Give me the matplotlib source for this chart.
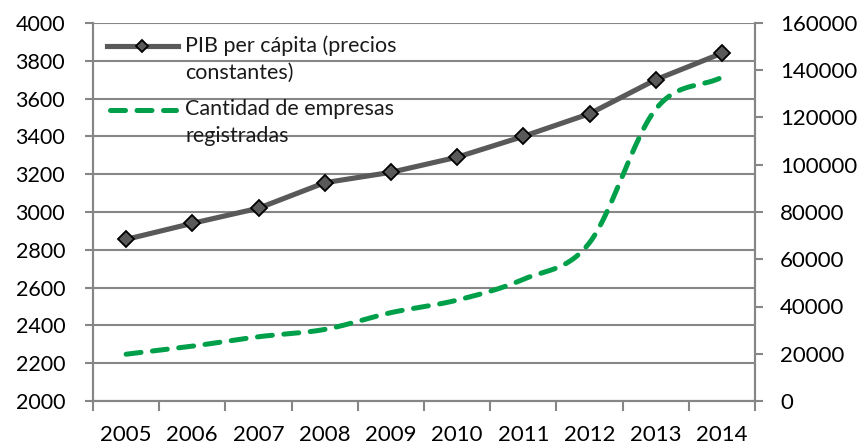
import numpy as np
import matplotlib.pyplot as plt
from matplotlib.lines import Line2D

# --- Data ---
years = ['2005', '2006', '2007', '2008', '2009', '2010', '2011', '2012', '2013', '2014']
pib_per_capita = [2855, 2940, 3020, 3155, 3210, 3290, 3400, 3520, 3700, 3840]
empresas = [19800, 23200, 27200, 30300, 37400, 42700, 51500, 67000, 123500, 137000]

label_pib = 'PIB per cápita (precios\nconstantes)'
label_emp = 'Cantidad de empresas\nregistradas'

GRID = '#868686'
GREY_LINE = '#595959'
GREEN = '#00A04A'


def smooth(x, y, n=30):
    """Catmull-Rom curve through the points (like Excel's smoothed line)."""
    x = np.asarray(x, float)
    y = np.asarray(y, float)
    px = np.concatenate([[2 * x[0] - x[1]], x, [2 * x[-1] - x[-2]]])
    py = np.concatenate([[2 * y[0] - y[1]], y, [2 * y[-1] - y[-2]]])
    xs, ys = [], []
    t = np.linspace(0, 1, n)
    for i in range(1, len(px) - 2):
        for p, out in ((px, xs), (py, ys)):
            p0, p1, p2, p3 = p[i - 1], p[i], p[i + 1], p[i + 2]
            out.extend(0.5 * (2 * p1 + (-p0 + p2) * t + (2 * p0 - 5 * p1 + 4 * p2 - p3) * t ** 2
                              + (-p0 + 3 * p1 - 3 * p2 + p3) * t ** 3))
    return np.array(xs), np.array(ys)


plt.rcParams['font.family'] = ['Lato', 'DejaVu Sans']

fig = plt.figure(figsize=(8.63, 4.45), dpi=100)
ax = fig.add_axes([93 / 863, 1 - 401 / 445, (755 - 93) / 863, (401 - 23) / 445])
ax2 = ax.twinx()

x = np.arange(len(years))

pib_style = dict(color=GREY_LINE, lw=3.7, marker='D', mfc=GREY_LINE, mec='black', mew=1.3)
emp_style = dict(color=GREEN, lw=3.6, ls=(0, (3.0, 2.3)), dash_capstyle='round')

ax.plot(x, pib_per_capita, ms=8.5, zorder=5, **pib_style)
sx, sy = smooth(x, empresas)
ax2.plot(sx, sy, **emp_style)

# left axis
ax.set_ylim(2000, 4000)
ax.set_yticks(np.arange(2000, 4001, 200))
ax.set_xlim(-0.5, len(years) - 0.5)
ax.set_xticks(np.arange(-0.5, len(years), 1.0))
ax.set_xticklabels([])
ax.set_xticks(x, minor=True)
ax.set_xticklabels(years, minor=True)
ax.grid(axis='y', color=GRID, lw=1.5)
ax.set_axisbelow(True)

# right axis
ax2.set_ylim(0, 160000)
ax2.set_yticks(np.arange(0, 160001, 20000))

for a in (ax, ax2):
    a.spines['top'].set_visible(False)
    for side in ('left', 'right', 'bottom'):
        a.spines[side].set_color(GRID)
        a.spines[side].set_linewidth(1.5)
    a.tick_params(axis='both', which='major', color=GRID, width=1.5, length=6)
ax.tick_params(axis='y', labelsize=15.5, pad=14)
ax2.tick_params(axis='y', labelsize=16, pad=12)
ax.tick_params(axis='x', which='minor', length=0, labelsize=16, pad=17)
ax.tick_params(axis='x', which='major', length=7)

# legend, drawn by hand so the key sits on the first text line
ax2.add_line(Line2D([0.021, 0.0745, 0.128], [0.939, 0.939, 0.939], transform=ax2.transAxes,
                    markevery=[1], ms=6.5, **pib_style))
ax2.add_line(Line2D([0.026, 0.126], [0.770, 0.770], transform=ax2.transAxes, **emp_style))
ax2.text(0.139, 0.968, label_pib, transform=ax2.transAxes, va='top', ha='left',
         fontsize=15.5, linespacing=1.42, color='#1a1a1a')
ax2.text(0.139, 0.799, label_emp, transform=ax2.transAxes, va='top', ha='left',
         fontsize=15.5, linespacing=1.42, color='#1a1a1a')

fig.savefig('out.png', dpi=100)
